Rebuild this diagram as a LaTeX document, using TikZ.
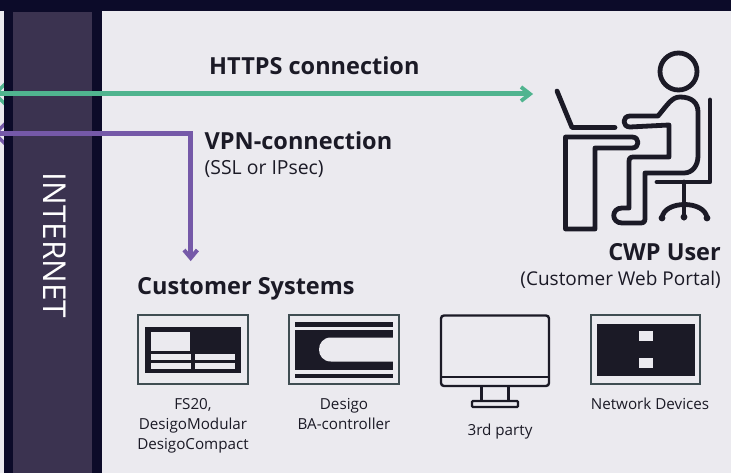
\documentclass[tikz,border=0pt]{standalone}
\usepackage{fontspec}
\setmainfont{Open Sans}
\definecolor{navy}{HTML}{0C0B29}
\definecolor{band}{HTML}{3B3350}
\definecolor{paper}{HTML}{EBEAEF}
\definecolor{ink}{HTML}{1B1A26}
\definecolor{teal}{HTML}{50B48F}
\definecolor{vio}{HTML}{7559A8}
\definecolor{frame}{HTML}{3F4D52}
\tikzset{
  x=1pt,y=-1pt,
  lbl/.style={font=\fontsize{#1}{#1}\selectfont,text=ink,inner sep=0pt},
  head/.style={font=\fontsize{23.5}{23.5}\selectfont\bfseries,text=ink,inner sep=0pt},
  capt/.style={font=\fontsize{15.2}{20}\selectfont,text=ink,inner sep=0pt,align=center},
  icon/.style={draw=ink,line width=4.8pt,line cap=round,line join=round},
  devframe/.style={draw=frame,line width=2.2pt,fill=paper},
  mon/.style={draw=ink,line width=2.4pt},
}
\begin{document}
\begin{tikzpicture}
\useasboundingbox (0,0) rectangle (731,473);
\fill[paper] (0,0) rectangle (731,473);
% arrowheads at the far left pass behind the dark strip
\draw[teal,line width=3.4pt] (8,81) -- (-5,94) -- (8,107);
\draw[vio,line width=3.4pt] (8,120.7) -- (-5,133.7) -- (8,146.7);
\fill[navy] (0,0) rectangle (731,11);
\fill[navy] (4,0) rectangle (102,473);
\fill[band] (13,12) rectangle (92,473);
\node[lbl=31.5,rotate=-90,text=white] (inet) at (54.5,245.5) {INTERNET};
% connectors
\coordinate (hL) at (0,94);
\coordinate (hR) at (529,94);
\coordinate (vL) at (0,133.7);
\coordinate (vC) at (190.7,133.7);
\coordinate (vB) at (190.7,257);
\draw[teal,line width=5pt] (hL) -- (hR);
\draw[teal,line width=3.8pt] (521,87) -- (530,94) -- (521,101);
\draw[vio,line width=5pt] (vL) -- (vC) -- (vB);
\draw[vio,line width=4pt] (184,250) -- (190.7,258) -- (197.4,250);
% labels
\node[head,anchor=west] (https) at (209,66) {HTTPS connection};
\node[head,anchor=west] (vpn) at (204.5,140.5) {VPN-connection};
\node[lbl=19.4,anchor=west] (ssl) at (204.5,169) {(SSL or IPsec)};
\node[head,anchor=west] (cs) at (137,288.5) {Customer Systems};
\node[head,anchor=east] (cwp) at (721,252) {CWP User};
\node[lbl=19,anchor=east] (cwp2) at (721,280) {(Customer Web Portal)};
% user icon
\begin{scope}[icon]
\draw (678.5,71.5) circle (18.5);
\draw (557,91) -- (572,127.5) -- (615,127.5);
\draw (595,229) -- (595,148) -- (632,148) .. controls (640,148) and (640,137) .. (632,137) -- (565.5,137) -- (565.5,229) -- cycle;
\draw (710,100) -- (710,182) -- (657,182);
\draw (684,182) -- (684,218);
\draw (662,218) .. controls (664,200) and (705,200) .. (707,218);
\draw (630,116) -- (658,116) .. controls (668,104) and (672,97) .. (680,97) .. controls (692,97) and (698,103) .. (698,112) -- (698,156) .. controls (698,166) and (692,173) .. (684,173) -- (645,173) -- (645,218) .. controls (645,222) and (644,223) .. (640,223) -- (622,223) .. controls (611,223) and (611,208) .. (622,208) -- (629,208) -- (629,162) .. controls (629,158) and (630,157) .. (634,157) -- (669,157) -- (669,125) -- (630,127) .. controls (622,127) and (622,116) .. (630,116) -- cycle;
\end{scope}
\fill[ink] (662,218) circle (3.4) (684,217) circle (3.4) (707,218) circle (3.4);
% devices
\draw[devframe] (138,315) rectangle (248,384);
\fill[ink] (145,327) rectangle (241,372.5);
\fill[paper] (151,332) rectangle (190,351);
\fill[paper] (151,354) rectangle (191,360);
\fill[paper] (195,354) rectangle (235,360);
\fill[paper] (151,363) rectangle (191,368.5);
\fill[paper] (195,363) rectangle (235,368.5);
\draw[devframe] (289,315) rectangle (399,384);
\fill[ink] (295,322) rectangle (393,327);
\fill[ink] (295,378) rectangle (393,374);
\fill[ink] (295,330) rectangle (393,369.5);
\fill[paper] (393,337.5) -- (331,337.5) .. controls (315,337.5) and (315,361.5) .. (331,361.5) -- (393,361.5) -- cycle;
\draw[mon,rounded corners=3pt] (441,315.5) rectangle (549,386);
\draw[mon] (441,377) -- (549,377);
\draw[mon] (481.5,386) -- (481.5,401) (508.5,386) -- (508.5,401);
\draw[mon,rounded corners=1pt] (472,401) rectangle (518,407);
\draw[devframe] (591,315) rectangle (700,384);
\fill[ink] (597,324) rectangle (695,375.5);
\fill[paper] (639,331) rectangle (653,341);
\fill[paper] (639,358) rectangle (653,368);
% captions
\node[capt,anchor=north] (c1) at (193,398) {FS20,\\DesigoModular\\DesigoCompact};
\node[capt,anchor=north] (c2) at (344,398) {Desigo\\BA-controller};
\node[capt,anchor=north] (c3) at (500,424) {3rd party};
\node[capt,anchor=north] (c4) at (650,398) {Network Devices};
\end{tikzpicture}
\end{document}
